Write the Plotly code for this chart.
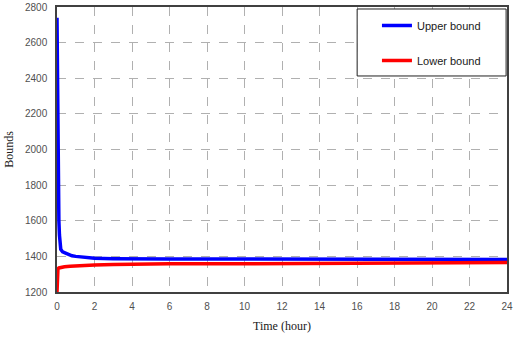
import plotly.graph_objects as go

# Time (hour) and bounds
upper_t = [0, 0.01, 0.02, 0.04, 0.06, 0.08, 0.1, 0.13, 0.17, 0.2, 0.3, 0.4, 0.6, 0.8, 1.0, 1.5, 2.0, 3.0, 4.0, 6.0, 10.0, 14.0, 18.0, 22.0, 24.0]
upper_v = [2740, 2600, 2360, 1900, 1750, 1650, 1600, 1520, 1470, 1440, 1425, 1420, 1410, 1403, 1400, 1395, 1390, 1387, 1385, 1385, 1385, 1384, 1383, 1382, 1382]
lower_t = [0, 0.01, 0.03, 0.05, 0.1, 0.2, 0.4, 0.7, 1.0, 1.5, 2.0, 3.0, 4.0, 6.0, 10.0, 14.0, 18.0, 20.4, 20.5, 24.0]
lower_v = [1200, 1290, 1320, 1330, 1335, 1338, 1342, 1345, 1347, 1350, 1352, 1354, 1356, 1358, 1359, 1360, 1360, 1360, 1364, 1365]

x_ticks = list(range(0, 25, 2))
y_ticks = list(range(1200, 2801, 200))

fig = go.Figure()
fig.add_trace(go.Scatter(x=upper_t, y=upper_v, mode="lines", name="Upper bound",
                         line=dict(color="#0000ff", width=3.5), legendgroup="u"))
fig.add_trace(go.Scatter(x=lower_t, y=lower_v, mode="lines", name="Lower bound",
                         line=dict(color="#ff0000", width=3.5), legendgroup="l"))

axis_common = dict(showline=True, linecolor="#404040", linewidth=1.5, mirror=True,
                   showgrid=True, gridcolor="#b0b0b0", griddash="dash", gridwidth=1,
                   zeroline=False, ticks="", automargin=False,
                   tickfont=dict(family="Liberation Sans, Arial", size=10, color="#505050"))

fig.update_layout(
    width=515, height=346,
    margin=dict(l=57, r=8, t=7, b=54),
    paper_bgcolor="white", plot_bgcolor="white",
    showlegend=True,
    legend=dict(x=0.711, xanchor="left", y=0.986, yanchor="top",
                bgcolor="rgba(0,0,0,0)", borderwidth=0,
                font=dict(family="Liberation Sans, Arial", size=11, color="#202020"),
                tracegroupgap=16, traceorder="grouped", itemwidth=30),
    shapes=[dict(type="rect", xref="paper", yref="paper", x0=0.667, x1=0.998, y0=0.758, y1=0.993,
                 line=dict(color="#202020", width=1), fillcolor="white", layer="above")],
    xaxis=dict(range=[0, 24], tickvals=x_ticks, ticklabelstandoff=4,
               title=dict(text="Time (hour)", font=dict(family="Liberation Serif, Times New Roman", size=12, color="#202020"), standoff=11),
               **axis_common),
    yaxis=dict(range=[1200, 2800], tickvals=y_ticks, ticklabelstandoff=6,
               title=dict(text="Bounds", font=dict(family="Liberation Serif, Times New Roman", size=12, color="#202020"), standoff=9),
               **axis_common),
)

fig.write_html("out.html")
